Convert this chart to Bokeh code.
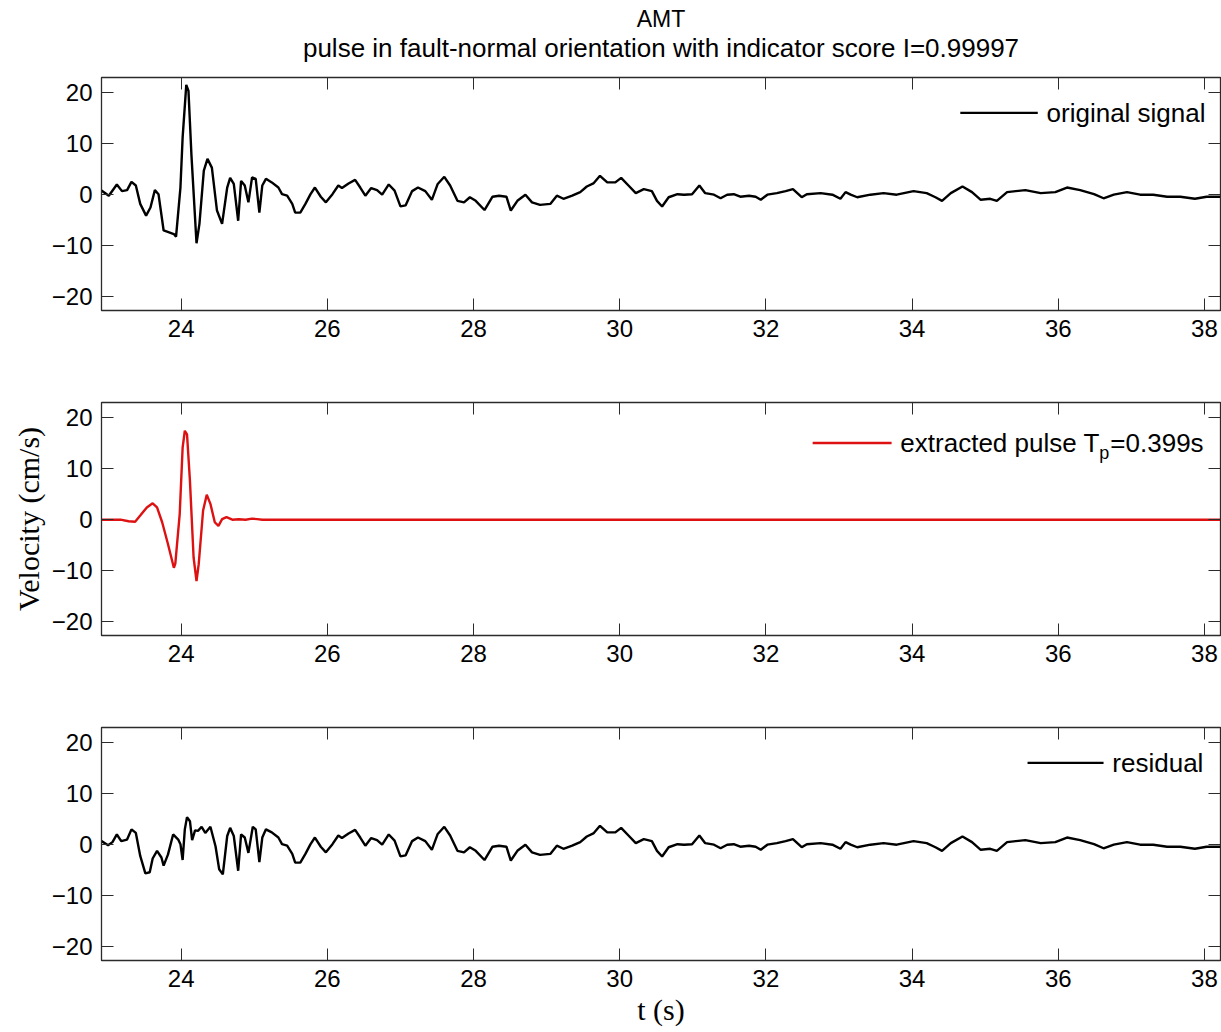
from bokeh.plotting import figure
from bokeh.models import Range1d, LinearAxis, FixedTicker, Label
from bokeh.core.properties import value
from bokeh.layouts import column
from bokeh.embed import file_html
from bokeh.resources import INLINE

# ---------------- data ----------------
X_TICKS = [24, 26, 28, 30, 32, 34, 36, 38]
Y_TICKS = [-20, -10, 0, 10, 20]

# original record, early part (t < 25.2 s)
orig_head_t = [22.91, 23.01, 23.12, 23.19, 23.26, 23.32, 23.38, 23.44, 23.52, 23.58,
               23.64, 23.69, 23.76, 23.90, 23.93, 23.99, 24.02, 24.07, 24.10, 24.14,
               24.21, 24.25, 24.31, 24.36, 24.42, 24.49, 24.56, 24.63, 24.67, 24.72,
               24.78, 24.82, 24.87, 24.92, 24.97, 25.02, 25.07, 25.11, 25.16]
orig_head_v = [0.8, -0.2, 2.0, 0.7, 0.9, 2.5, 1.8, -1.8, -4.1, -2.5,
               0.9, 0.1, -7.0, -7.7, -8.2, 1.4, 11.2, 21.5, 20.3, 7.9,
               -9.5, -5.7, 4.7, 7.0, 5.3, -3.1, -5.7, 1.4, 3.3, 2.1,
               -5.1, 2.7, 1.8, -1.5, 3.4, 3.1, -3.5, 1.8, 3.1]

# residual, early part (t < 25.2 s)
res_head_t = [22.91, 23.00, 23.06, 23.12, 23.18, 23.26, 23.32, 23.38, 23.44, 23.51,
              23.57, 23.61, 23.67, 23.73, 23.76, 23.82, 23.89, 23.96, 23.99, 24.02,
              24.05, 24.08, 24.12, 24.15, 24.19, 24.23, 24.28, 24.33, 24.40, 24.47,
              24.52, 24.57, 24.63, 24.67, 24.72, 24.78, 24.82, 24.87, 24.92, 24.98,
              25.02, 25.07, 25.11, 25.16]
res_head_v = [0.7, -0.1, 0.5, 2.0, 0.7, 1.0, 3.0, 2.3, -2.2, -5.6,
              -5.4, -2.7, -1.2, -2.5, -4.1, -1.9, 2.0, 1.0, 0.1, -3.0,
              3.0, 5.4, 4.6, 0.9, 2.8, 2.7, 3.5, 2.3, 3.5, -0.3,
              -4.8, -5.8, 1.7, 3.3, 1.7, -5.1, 2.0, 1.4, -1.6, 3.5,
              3.0, -3.4, 1.4, 3.0]

# late part of the record (identical in original and residual, pulse is zero there)
tail_t = [25.24, 25.33, 25.38, 25.45, 25.52, 25.56, 25.63, 25.70, 25.77, 25.83,
          25.91, 25.98, 26.07, 26.15, 26.20, 26.29, 26.38, 26.45, 26.52, 26.60,
          26.68, 26.75, 26.84, 26.92, 27.00, 27.07, 27.16, 27.24, 27.34, 27.43,
          27.51, 27.60, 27.68, 27.78, 27.87, 27.95, 28.03, 28.15, 28.26, 28.35,
          28.45, 28.51, 28.60, 28.71, 28.80, 28.91, 29.05, 29.14, 29.23, 29.35,
          29.46, 29.55, 29.64, 29.73, 29.83, 29.94, 30.02, 30.12, 30.22, 30.33,
          30.44, 30.51, 30.58, 30.67, 30.79, 30.88, 30.99, 31.09, 31.17, 31.29,
          31.38, 31.47, 31.56, 31.65, 31.77, 31.86, 31.93, 32.02, 32.15, 32.27,
          32.37, 32.49, 32.56, 32.75, 32.91, 33.02, 33.09, 33.16, 33.25, 33.43,
          33.61, 33.79, 34.02, 34.20, 34.32, 34.41, 34.53, 34.69, 34.82, 34.94,
          35.07, 35.16, 35.30, 35.55, 35.76, 35.96, 36.12, 36.30, 36.49, 36.62,
          36.76, 36.94, 37.12, 37.30, 37.49, 37.67, 37.87, 38.03, 38.22]
tail_v = [2.4, 1.4, 0.1, -0.2, -1.8, -3.5, -3.5, -1.8, 0.1, 1.4,
          -0.4, -1.5, 0.1, 1.8, 1.3, 2.2, 2.9, 1.4, -0.2, 1.3,
          0.9, 0.0, 2.0, 0.8, -2.3, -2.1, 0.7, 1.4, 0.7, -1.0,
          2.1, 3.5, 1.8, -1.2, -1.5, -0.5, -1.2, -3.0, -0.4, -0.2,
          -0.4, -3.1, -1.2, 0.0, -1.5, -2.0, -1.8, -0.2, -0.8, -0.2,
          0.5, 1.6, 2.2, 3.7, 2.4, 2.4, 3.3, 1.8, 0.3, 1.1,
          0.7, -1.2, -2.3, -0.5, 0.1, 0.0, 0.1, 1.8, 0.3, 0.0,
          -0.7, 0.0, 0.1, -0.4, -0.2, -0.4, -1.0, 0.0, 0.3, 0.7,
          1.1, -0.5, 0.1, 0.3, 0.0, -0.8, 0.5, 0.0, -0.5, 0.0,
          0.3, 0.0, 0.7, 0.3, -0.5, -1.2, 0.3, 1.6, 0.5, -1.0,
          -0.8, -1.2, 0.5, 0.9, 0.3, 0.5, 1.4, 0.9, 0.1, -0.7,
          0.0, 0.5, 0.0, 0.0, -0.4, -0.4, -0.8, -0.4, -0.4]

# extracted pulse
pulse_t = [22.91, 23.17, 23.28, 23.37, 23.44, 23.53, 23.61, 23.67, 23.74, 23.82,
           23.90, 23.92, 23.98, 24.02, 24.05, 24.08, 24.12, 24.17, 24.21, 24.24,
           24.30, 24.35, 24.40, 24.46, 24.51, 24.56, 24.62, 24.70, 24.79, 24.88,
           24.97, 25.04, 25.11, 38.22]
pulse_v = [0.0, 0.0, -0.3, -0.4, 0.8, 2.4, 3.2, 2.4, -0.5, -4.8,
           -9.4, -8.6, 1.1, 14.1, 17.4, 16.7, 7.6, -7.4, -12.0, -8.7,
           1.8, 4.9, 3.1, -0.5, -1.2, 0.1, 0.5, 0.0, 0.1, 0.0,
           0.2, 0.1, 0.0, 0.0]

orig_t = orig_head_t + tail_t
orig_v = orig_head_v + tail_v
res_t = res_head_t + tail_t
res_v = res_head_v + tail_v

TITLE_1 = "AMT"
TITLE_2 = "pulse in fault-normal orientation with indicator score I=0.99997"

# ---------------- styling ----------------
SANS = "Liberation Sans"
SERIF = "Liberation Serif"
FRAME_COL = "#2b2b2b"
RED = "#dd1111"
LW = 2.4
X0, X1 = 22.91, 38.22
Y0, Y1 = -22.66, 22.93


def style_axis(ax, show_labels=True):
    ax.major_tick_in = 12
    ax.major_tick_out = 0
    ax.minor_tick_in = 0
    ax.minor_tick_out = 0
    ax.major_tick_line_color = FRAME_COL
    ax.major_tick_line_width = 1
    ax.axis_line_color = FRAME_COL
    ax.axis_line_width = 1
    if show_labels:
        ax.major_label_text_font = SANS
        ax.major_label_text_font_size = "24px"
        ax.major_label_text_color = "black"
        ax.major_label_standoff = 9
    else:
        ax.major_label_text_font_size = "0px"
        ax.major_label_text_alpha = 0
        ax.major_label_standoff = 0


def make_fig(border_top, border_bottom):
    p = figure(frame_width=1119, frame_height=233,
               min_border_left=101, min_border_right=1,
               min_border_top=border_top, min_border_bottom=border_bottom,
               x_range=Range1d(X0, X1), y_range=Range1d(Y0, Y1),
               output_backend="svg", toolbar_location=None, tools="")
    p.grid.visible = False
    p.outline_line_color = FRAME_COL
    p.outline_line_width = 1.3
    p.background_fill_color = "white"
    p.border_fill_color = "white"
    bottom = p.xaxis[0]
    left = p.yaxis[0]
    bottom.ticker = FixedTicker(ticks=X_TICKS)
    left.ticker = FixedTicker(ticks=Y_TICKS)
    style_axis(bottom)
    style_axis(left)
    top = LinearAxis(ticker=FixedTicker(ticks=X_TICKS))
    style_axis(top, show_labels=False)
    p.add_layout(top, "above")
    right = LinearAxis(ticker=FixedTicker(ticks=Y_TICKS))
    style_axis(right, show_labels=False)
    p.add_layout(right, "right")
    return p, bottom, left


def legend(p, x0, x1, y, color, text):
    p.line([x0, x1], [y, y], line_color=color, line_width=LW)
    lab = Label(x=x1 + 0.12, y=y, text=text, text_font=SANS, text_font_size="26px",
                text_color="black", text_baseline="middle", text_align="left")
    p.add_layout(lab)
    return lab


# ---------------- title strip (same horizontal frame as the panels) ----------------
TH = 76
pt = figure(frame_width=1119, frame_height=TH,
            min_border_left=101, min_border_right=1, min_border_top=0, min_border_bottom=0,
            x_range=Range1d(X0, X1), y_range=Range1d(0, TH),
            x_axis_type=None, y_axis_type=None,
            output_backend="svg", toolbar_location=None, tools="")
pt.grid.visible = False
pt.outline_line_color = None
pt.background_fill_color = "white"
pt.border_fill_color = "white"
TITLE_CX = (X0 + X1) / 2
pt.text(x=[TITLE_CX], y=[TH - 18], text=[TITLE_1], text_font=value(SANS),
        text_font_size=value("23px"), text_color="black",
        text_align="center", text_baseline="middle")
pt.text(x=[TITLE_CX], y=[TH - 47], text=[TITLE_2], text_font=value(SANS),
        text_font_size=value("26px"), text_color="black",
        text_align="center", text_baseline="middle")

# ---------------- panel 1: original ----------------
p1, _, _ = make_fig(1, 46)
p1.line(orig_t, orig_v, line_color="black", line_width=LW)
legend(p1, 34.66, 35.72, 16.0, "black", "original signal")

# ---------------- panel 2: pulse ----------------
p2, _, left2 = make_fig(46, 46)
p2.line(pulse_t, pulse_v, line_color=RED, line_width=LW)
legend(p2, 32.64, 33.72, 15.0, RED, "extracted pulse T")
p2.add_layout(Label(x=33.84, y=15.0, x_offset=199, y_offset=-10, text="p",
                    text_font=SANS, text_font_size="18px", text_color="black",
                    text_baseline="middle", text_align="left"))
p2.add_layout(Label(x=33.84, y=15.0, x_offset=210, text="=0.399s",
                    text_font=SANS, text_font_size="26px", text_color="black",
                    text_baseline="middle", text_align="left"))
left2.axis_label = "Velocity (cm/s)"
left2.axis_label_text_font = SERIF
left2.axis_label_text_font_size = "30px"
left2.axis_label_text_font_style = "normal"
left2.axis_label_text_color = "black"
left2.axis_label_standoff = 4

# ---------------- panel 3: residual ----------------
p3, bottom3, _ = make_fig(46, 72)
p3.line(res_t, res_v, line_color="black", line_width=LW)
legend(p3, 35.58, 36.62, 16.0, "black", "residual")
bottom3.axis_label = "t (s)"
bottom3.axis_label_text_font = SERIF
bottom3.axis_label_text_font_size = "30px"
bottom3.axis_label_text_font_style = "normal"
bottom3.axis_label_text_color = "black"
bottom3.axis_label_standoff = 3

layout = column(pt, p1, p2, p3, spacing=0)
open("out.html", "w").write(file_html(layout, INLINE))
